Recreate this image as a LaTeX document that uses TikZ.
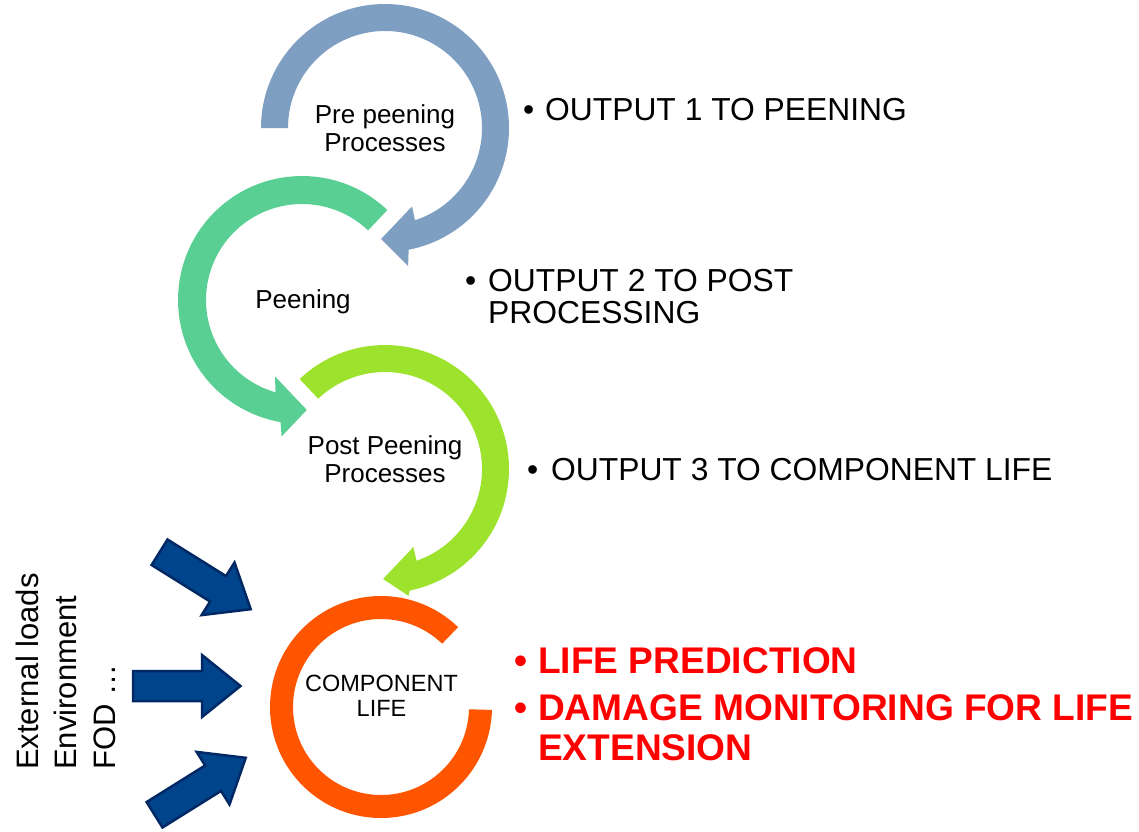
\documentclass[tikz,border=0pt]{standalone}
\usepackage{fontspec}
\setmainfont{Liberation Sans}
\definecolor{ringblue}{RGB}{126,158,194}
\definecolor{ringgreen}{RGB}{89,207,148}
\definecolor{ringlime}{RGB}{157,227,46}
\definecolor{ringorange}{RGB}{255,85,0}
\definecolor{navyfill}{RGB}{0,68,140}
\definecolor{navyline}{RGB}{0,40,100}
\definecolor{alertred}{RGB}{255,0,0}
\tikzset{
  blockarrow/.pic={\filldraw[fill=navyfill, draw=navyline, line width=2.5pt, line join=miter]
    (-1.5,0) -- (-40,31) -- (-40,15) -- (-109,15) -- (-109,-15) -- (-40,-15) -- (-40,-31) -- cycle;},
  circlabel/.style={align=center, inner sep=0, anchor=base, font=\fontsize{26}{28.2}\selectfont},
  complabel/.style={align=center, inner sep=0, anchor=base, font=\fontsize{23.5}{24.3}\selectfont},
  item/.style={align=left, inner sep=0, anchor=base west, font=\fontsize{31.8}{31.7}\selectfont},
  reditem/.style={align=left, inner sep=0, anchor=base west, text=alertred, font=\fontsize{37.1}{40}\selectfont\bfseries},
  sidetext/.style={align=left, inner sep=0, anchor=base west, rotate=90, font=\fontsize{31}{38.5}\selectfont},
}
\begin{document}
\begin{tikzpicture}[x=1pt,y=1pt]
\useasboundingbox (0,0) rectangle (1139,-831);
% circular arrows
\begin{scope}[shift={(385,-128)}]
  \fill[ringblue] (180:124) arc[start angle=180, end angle=-79, radius=124]
    -- (-80.5:140) -- (-92:111) -- (-71:83) -- (-72:97)
    arc[start angle=-72, end angle=180, radius=97] -- cycle;
\end{scope}
\begin{scope}[shift={(302,-300)}]
  \fill[ringgreen] (46.5:124) arc[start angle=46.5, end angle=260, radius=124]
    -- (261.5:138) -- (272.5:110) -- (250.5:81) -- (254:96)
    arc[start angle=254, end angle=46.5, radius=96] -- cycle;
\end{scope}
\begin{scope}[shift={(385,-469)}]
  \fill[ringlime] (133.5:124) arc[start angle=133.5, end angle=-78.5, radius=124]
    -- (-79.5:129) -- (-91:110) -- (-70:83) -- (-71:97)
    arc[start angle=-71, end angle=133.5, radius=97] -- cycle;
\end{scope}
\begin{scope}[shift={(381,-707)}]
  \fill[ringorange] (46:111) arc[start angle=46, end angle=358.5, radius=111]
    -- (358.5:88) arc[start angle=358.5, end angle=46, radius=88] -- cycle;
\end{scope}
% block arrows
\pic[rotate=-32] at (252,-610) {blockarrow};
\pic at (242,-686) {blockarrow};
\pic[rotate=32] at (247,-757) {blockarrow};
% labels (anchor base = baseline of the last line)
\node[circlabel] (pre) at (385,-151.7) {Pre peening\\Processes};
\node[circlabel] (peen) at (303,-308) {Peening};
\node[circlabel] (post) at (385,-482.7) {Post Peening\\Processes};
\node[complabel] (comp) at (381.5,-716) {COMPONENT\\LIFE};
\node[item] (out1) at (523,-120) {\makebox[22pt][l]{\textbullet}OUTPUT 1 TO PEENING};
\node[item] (out2) at (465,-323) {\makebox[23pt][l]{\textbullet}OUTPUT 2 TO POST\\\hspace*{23pt}PROCESSING};
\node[item] (out3) at (527,-480) {\makebox[24pt][l]{\textbullet}OUTPUT 3 TO COMPONENT LIFE};
\node[reditem] (life) at (514,-673) {\makebox[24pt][l]{\textbullet}LIFE PREDICTION};
\node[reditem] (dmg) at (514,-760) {\makebox[24pt][l]{\textbullet}DAMAGE MONITORING FOR LIFE\\\hspace*{24pt}EXTENSION};
\node[sidetext] (ext) at (115,-770) {External loads\\Environment\\FOD …};
\end{tikzpicture}
\end{document}
